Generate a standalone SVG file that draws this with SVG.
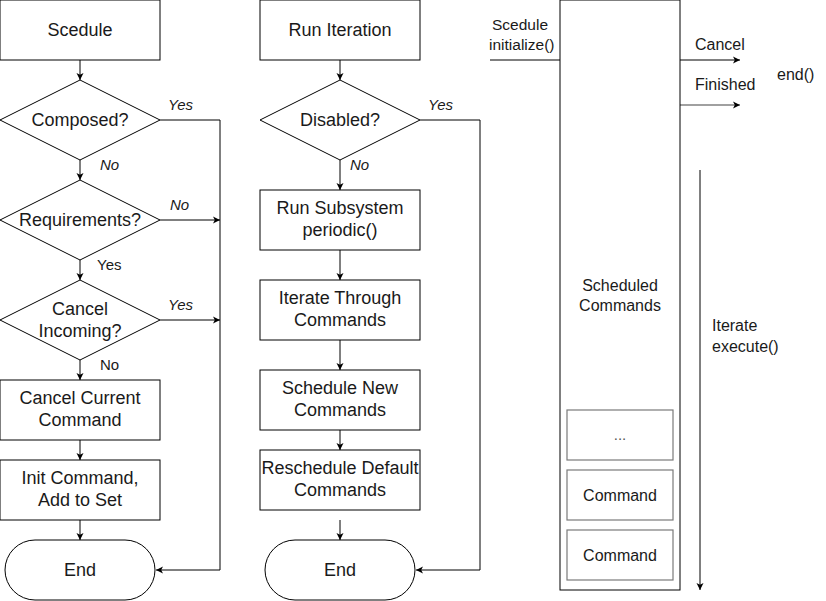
<svg xmlns="http://www.w3.org/2000/svg" width="826" height="601" viewBox="0 0 826 601" font-family="'Liberation Sans', Arial, Helvetica, sans-serif">
<style>
.s{fill:#fff;stroke:#000;stroke-width:1}
.g{fill:#fff;stroke:#7a7a7a;stroke-width:1.2}
.t{font-size:18px;fill:#1a1a1a;text-anchor:middle}
.e{font-size:15px;fill:#1a1a1a}
.r{font-size:16px}
.i{font-style:italic}
.m{text-anchor:middle}
.c{fill:none;stroke:#000;stroke-width:1}
</style>
<defs>
<marker id="a" markerUnits="userSpaceOnUse" markerWidth="10" markerHeight="10" viewBox="0 0 10 10" refX="8" refY="5" orient="auto">
<path d="M1,1.5 L8,5 L1,8.5 L2.8,5 Z" fill="#000"/>
</marker>
</defs>
<rect width="826" height="601" fill="#fff"/>

<g id="connectors">
<line class="c" x1="80" y1="60" x2="80" y2="80" marker-end="url(#a)"/>
<line class="c" x1="80" y1="160" x2="80" y2="180" marker-end="url(#a)"/>
<line class="c" x1="80" y1="260" x2="80" y2="280" marker-end="url(#a)"/>
<line class="c" x1="80" y1="360" x2="80" y2="380" marker-end="url(#a)"/>
<line class="c" x1="80" y1="440" x2="80" y2="460" marker-end="url(#a)"/>
<line class="c" x1="80" y1="520" x2="80" y2="540" marker-end="url(#a)"/>
<polyline class="c" points="160,120 220,120 220,570 156,570" marker-end="url(#a)"/>
<line class="c" x1="160" y1="220" x2="220" y2="220" marker-end="url(#a)"/>
<line class="c" x1="160" y1="320" x2="220" y2="320" marker-end="url(#a)"/>

<line class="c" x1="340" y1="60" x2="340" y2="80" marker-end="url(#a)"/>
<line class="c" x1="340" y1="160" x2="340" y2="190" marker-end="url(#a)"/>
<line class="c" x1="340" y1="250" x2="340" y2="280" marker-end="url(#a)"/>
<line class="c" x1="340" y1="340" x2="340" y2="370" marker-end="url(#a)"/>
<line class="c" x1="340" y1="430" x2="340" y2="450" marker-end="url(#a)"/>
<line class="c" x1="340" y1="520" x2="340" y2="540" marker-end="url(#a)"/>
<polyline class="c" points="420,120 480,120 480,570 416,570" marker-end="url(#a)"/>

<line class="c" x1="490" y1="60" x2="590" y2="60" marker-end="url(#a)"/>
<line class="c" x1="640" y1="60" x2="740" y2="60" marker-end="url(#a)"/>
<line x1="640" y1="105" x2="740" y2="105" stroke="#808080" stroke-width="1.3" marker-end="url(#a)"/>
<line class="c" x1="700" y1="170" x2="700" y2="590" marker-end="url(#a)"/>

<text class="e i" x="168" y="110">Yes</text>
<text class="e i" x="100" y="170">No</text>
<text class="e i" x="170" y="210">No</text>
<text class="e" x="97" y="270">Yes</text>
<text class="e i" x="168" y="310">Yes</text>
<text class="e" x="100" y="370">No</text>
<text class="e i" x="428" y="110">Yes</text>
<text class="e i" x="350" y="170">No</text>
<text class="e" x="492" y="30" style="font-size:15.5px">Scedule</text>
<text class="e" x="489" y="50" style="font-size:15.5px">initialize()</text>
<text class="e r" x="695" y="50">Cancel</text>
<text class="e r" x="695" y="90">Finished</text>
<text class="e r" x="777" y="80">end()</text>
<text class="e r" x="712" y="331">Iterate</text>
<text class="e r" x="712" y="352">execute()</text>
</g>

<g id="scedule"><rect class="s" x="0" y="0" width="160" height="60"/><text class="t" x="80" y="36">Scedule</text></g>
<g id="composed"><polygon class="s" points="80,80 160,120 80,160 0,120"/><text class="t" x="80" y="126">Composed?</text></g>
<g id="requirements"><polygon class="s" points="80,180 160,220 80,260 0,220"/><text class="t" x="80" y="226">Requirements?</text></g>
<g id="cancelIncoming"><polygon class="s" points="80,280 160,320 80,360 0,320"/><text class="t" x="80" y="315">Cancel</text><text class="t" x="80" y="337">Incoming?</text></g>
<g id="cancelCurrent"><rect class="s" x="0" y="380" width="160" height="60"/><text class="t" x="80" y="404">Cancel Current</text><text class="t" x="80" y="426">Command</text></g>
<g id="initCommand"><rect class="s" x="0" y="460" width="160" height="60"/><text class="t" x="80" y="484">Init Command,</text><text class="t" x="80" y="506">Add to Set</text></g>
<g id="end1"><rect class="s" x="5" y="540" width="150" height="60" rx="30" ry="30"/><text class="t" x="80" y="576">End</text></g>

<g id="runIteration"><rect class="s" x="260" y="0" width="160" height="60"/><text class="t" x="340" y="36">Run Iteration</text></g>
<g id="disabled"><polygon class="s" points="340,80 420,120 340,160 260,120"/><text class="t" x="340" y="126">Disabled?</text></g>
<g id="runSubsystem"><rect class="s" x="260" y="190" width="160" height="60"/><text class="t" x="340" y="214">Run Subsystem</text><text class="t" x="340" y="236">periodic()</text></g>
<g id="iterateThrough"><rect class="s" x="260" y="280" width="160" height="60"/><text class="t" x="340" y="304">Iterate Through</text><text class="t" x="340" y="326">Commands</text></g>
<g id="scheduleNew"><rect class="s" x="260" y="370" width="160" height="60"/><text class="t" x="340" y="394">Schedule New</text><text class="t" x="340" y="416">Commands</text></g>
<g id="rescheduleDefault"><rect class="s" x="260" y="450" width="160" height="60"/><text class="t" x="340" y="474">Reschedule Default</text><text class="t" x="340" y="496">Commands</text></g>
<g id="end2"><rect class="s" x="265" y="540" width="150" height="60" rx="30" ry="30"/><text class="t" x="340" y="576">End</text></g>

<g id="scheduledCommands"><rect class="s" x="560" y="0" width="120" height="590"/><text class="e r m" x="620" y="291">Scheduled</text><text class="e r m" x="620" y="311">Commands</text></g>
<g id="ellipsisBox"><rect class="g" x="567" y="410" width="106" height="50"/><text class="e m" x="620" y="440" style="fill:#555">...</text></g>
<g id="command1"><rect class="g" x="567" y="470" width="106" height="50"/><text class="e r m" x="620" y="501">Command</text></g>
<g id="command2"><rect class="g" x="567" y="530" width="106" height="50"/><text class="e r m" x="620" y="561">Command</text></g>
</svg>
